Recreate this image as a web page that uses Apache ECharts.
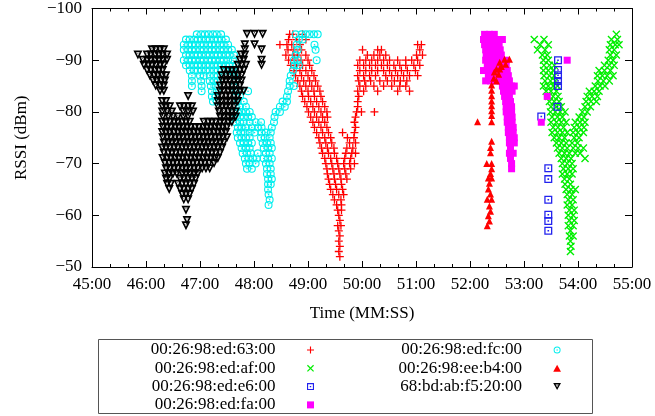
<!DOCTYPE html>
<html>
<head>
<meta charset="utf-8">
<script src="https://cdn.jsdelivr.net/npm/echarts@6/dist/echarts.min.js"></script>
<style>
  html, body { margin: 0; padding: 0; background: #fff; }
  #chart { width: 655px; height: 416px; }
</style>
</head>
<body>
<div id="chart"></div>
<script>
// x = time in minutes (45 -> 45:00), y = RSSI (dBm)
// rows: [dBm, [times...]]
const mac63 = [
  [-95, [48.66, 48.72, 48.90]],
  [-94, [48.64, 48.79, 48.96]],
  [-93, [48.48, 48.61, 48.70, 48.85, 51.03, 51.10]],
  [-92, [48.63, 48.74, 48.88, 50.01, 50.29, 50.36, 51.07]],
  [-91, [48.59, 48.72, 48.81, 48.96, 50.10, 50.22, 50.33, 50.44, 51.01, 51.12]],
  [-90, [48.64, 48.75, 48.87, 49.00, 49.96, 50.07, 50.18, 50.29, 50.40, 50.51, 50.66, 50.81, 50.92, 51.03]],
  [-89, [48.68, 48.79, 48.90, 49.03, 49.92, 50.03, 50.14, 50.25, 50.36, 50.47, 50.59, 50.70, 50.81, 50.96, 51.07]],
  [-88, [48.74, 48.85, 48.96, 49.07, 49.96, 50.07, 50.18, 50.29, 50.40, 50.51, 50.62, 50.73, 50.84, 50.99]],
  [-87, [48.77, 48.88, 49.00, 49.11, 49.92, 50.03, 50.14, 50.25, 50.44, 50.55, 50.66, 50.77, 50.88, 51.03]],
  [-86, [48.81, 48.92, 49.03, 49.14, 49.94, 50.05, 50.16, 50.33, 50.47, 50.60, 50.71, 50.83]],
  [-85, [48.85, 48.96, 49.07, 49.18, 49.96, 50.07, 50.22, 50.40, 50.55, 50.70, 50.81]],
  [-84, [48.88, 49.00, 49.11, 49.22, 49.92, 50.03, 50.29, 50.66, 50.88]],
  [-83, [48.90, 49.01, 49.12, 49.24, 49.94]],
  [-82, [48.94, 49.05, 49.16, 49.27, 49.92]],
  [-81, [48.98, 49.09, 49.20, 49.31, 49.92]],
  [-80, [49.01, 49.12, 49.24, 49.35, 49.90, 49.99, 50.23]],
  [-79, [49.05, 49.16, 49.27, 49.36, 49.88]],
  [-78, [49.09, 49.20, 49.31, 49.86]],
  [-77, [49.12, 49.24, 49.35, 49.88]],
  [-76, [49.16, 49.27, 49.38, 49.64, 49.86]],
  [-75, [49.20, 49.31, 49.42, 49.73, 49.85]],
  [-74, [49.22, 49.33, 49.44, 49.77, 49.88]],
  [-73, [49.25, 49.36, 49.48, 49.72, 49.83]],
  [-72, [49.27, 49.38, 49.49, 49.70, 49.81, 49.88]],
  [-71, [49.31, 49.42, 49.53, 49.68, 49.79]],
  [-70, [49.33, 49.44, 49.55, 49.66, 49.77, 49.86]],
  [-69, [49.35, 49.46, 49.57, 49.68, 49.79]],
  [-68, [49.36, 49.48, 49.59, 49.70]],
  [-67, [49.38, 49.49, 49.61, 49.72]],
  [-66, [49.40, 49.51, 49.62]],
  [-65, [49.42, 49.53, 49.64]],
  [-64, [49.46, 49.57, 49.66]],
  [-63, [49.49, 49.61]],
  [-62, [49.53, 49.62]],
  [-61, [49.55, 49.62]],
  [-60, [49.57]],
  [-59, [49.59]],
  [-58, [49.55, 49.61]],
  [-57, [49.57]],
  [-56, [49.59]],
  [-55, [49.57]],
  [-54, [49.59]],
  [-53, [49.57]],
  [-52, [49.59]]
];

const macAf = [
  [-95, [54.71]],
  [-94, [53.19, 53.37, 54.62, 54.73]],
  [-93, [53.30, 53.45, 54.60, 54.69, 54.76]],
  [-92, [53.25, 53.39, 54.58, 54.67]],
  [-91, [53.34, 53.43, 54.60, 54.71]],
  [-90, [53.36, 53.45, 54.56, 54.65]],
  [-89, [53.37, 53.47, 53.56, 54.49, 54.58, 54.67]],
  [-88, [53.36, 53.45, 53.54, 54.39, 54.49, 54.60]],
  [-87, [53.37, 53.47, 53.56, 54.36, 54.45, 54.54, 54.65]],
  [-86, [53.39, 53.49, 53.58, 54.37, 54.47, 54.58]],
  [-85, [53.36, 53.45, 53.54, 53.62, 54.32, 54.41, 54.50]],
  [-84, [53.41, 53.50, 53.60, 54.21, 54.30, 54.39]],
  [-83, [53.45, 53.54, 53.63, 54.17, 54.26, 54.36]],
  [-82, [53.47, 53.56, 53.65, 54.15, 54.24, 54.34]],
  [-81, [53.50, 53.60, 53.69, 54.13, 54.23]],
  [-80, [53.49, 53.58, 53.67, 53.76, 54.08, 54.17]],
  [-79, [53.52, 53.62, 53.71, 54.02, 54.11]],
  [-78, [53.50, 53.60, 53.69, 53.78, 53.95, 54.04, 54.13]],
  [-77, [53.54, 53.63, 53.73, 53.93, 54.02, 54.11]],
  [-76, [53.52, 53.62, 53.71, 53.80, 53.91, 54.00, 54.10]],
  [-75, [53.56, 53.65, 53.75, 53.93, 54.02]],
  [-74, [53.60, 53.69, 53.78, 53.89, 53.99]],
  [-73, [53.62, 53.71, 53.80, 53.91, 54.00, 54.10]],
  [-72, [53.65, 53.75, 53.84, 53.95, 54.04]],
  [-71, [53.69, 53.78, 53.87, 54.13]],
  [-70, [53.71, 53.80, 53.89]],
  [-69, [53.73, 53.82, 53.91]],
  [-68, [53.71, 53.80, 53.89]],
  [-67, [53.75, 53.84]],
  [-66, [53.76, 53.86]],
  [-65, [53.78, 53.87, 53.95]],
  [-64, [53.80, 53.89]],
  [-63, [53.82, 53.91]],
  [-62, [53.80, 53.89]],
  [-61, [53.84, 53.93]],
  [-60, [53.82, 53.91]],
  [-59, [53.84, 53.93]],
  [-58, [53.82, 53.91]],
  [-57, [53.86]],
  [-56, [53.84, 53.91]],
  [-55, [53.86]],
  [-54, [53.87]],
  [-53, [53.86]]
];

const macE6 = [
  [-90, [53.63]], [-88.1, [53.63]], [-87.1, [53.63]], [-86, [53.63]], [-85, [53.63]],
  [-81, [53.62]], [-79.1, [53.32]], [-69.1, [53.45]], [-67, [53.45]], [-63, [53.45]],
  [-60.1, [53.45]], [-58.9, [53.45]], [-57, [53.45]]
];

const macFa = [
  [-95, [52.27, 52.36, 52.45]],
  [-94, [52.25, 52.34, 52.43, 52.53, 52.60]],
  [-93, [52.27, 52.36, 52.45, 52.54]],
  [-92, [52.29, 52.38, 52.47, 52.56]],
  [-91, [52.30, 52.40, 52.49, 52.58]],
  [-90, [52.29, 52.38, 52.47, 52.58, 52.67, 53.80]],
  [-89, [52.32, 52.42, 52.51, 52.60, 52.67]],
  [-88, [52.25, 52.34, 52.43, 52.53, 52.62, 52.69]],
  [-87, [52.34, 52.43, 52.53, 52.62, 52.71]],
  [-86, [52.29, 52.38, 52.47, 52.56, 52.66, 52.73]],
  [-85, [52.60, 52.69, 52.77, 52.82]],
  [-84, [52.62, 52.71, 52.78]],
  [-83, [52.64, 52.73, 53.43]],
  [-82, [52.66, 52.75]],
  [-81, [52.67, 52.77]],
  [-80, [52.67, 52.77]],
  [-79, [52.69, 52.78]],
  [-78, [52.69, 52.78, 53.32]],
  [-77, [52.71, 52.80]],
  [-76, [52.71, 52.80]],
  [-75, [52.73, 52.82]],
  [-74, [52.73, 52.82]],
  [-73, [52.75]],
  [-72, [52.73, 52.80]],
  [-71, [52.75]],
  [-70, [52.77]],
  [-69, [52.77]]
];

const macFc = [
  [-95, [46.94, 47.02, 47.09, 47.16, 47.24, 47.31, 47.39, 48.77, 48.88, 48.96, 49.03, 49.11, 49.18]],
  [-94, [46.74, 46.81, 46.89, 46.96, 47.03, 47.11, 47.18, 47.26, 47.33, 47.40, 47.48, 48.83, 48.90]],
  [-93, [46.70, 46.78, 46.85, 46.92, 47.00, 47.07, 47.15, 47.22, 47.29, 47.37, 47.44, 47.52, 48.79, 49.12]],
  [-92, [46.70, 46.78, 46.85, 46.92, 47.00, 47.07, 47.15, 47.22, 47.29, 47.37, 47.44, 47.52, 47.59, 48.81, 49.14]],
  [-91, [46.74, 46.81, 46.89, 46.96, 47.03, 47.11, 47.18, 47.26, 47.33, 47.40, 47.48, 47.55, 47.63, 48.77]],
  [-90, [46.70, 46.78, 46.85, 46.92, 47.00, 47.07, 47.15, 47.22, 47.29, 47.37, 47.44, 47.52, 47.61, 48.74, 48.81, 49.16]],
  [-89, [46.74, 46.81, 46.89, 46.96, 47.03, 47.11, 47.18, 47.26, 47.33, 47.40, 47.48, 47.55, 47.66, 48.75, 48.83]],
  [-88, [46.81, 46.89, 46.96, 47.03, 47.11, 47.18, 47.26, 47.33, 47.40, 47.48, 47.55, 47.59, 47.63, 48.72]],
  [-87, [46.85, 47.00, 47.07, 47.18, 47.26, 47.33, 47.63, 48.68]],
  [-86, [46.85, 47.02, 47.18, 47.26, 47.33, 47.66, 48.66]],
  [-85, [46.85, 47.03, 47.20, 47.29, 47.63, 48.66, 48.74]],
  [-84, [47.03, 47.22, 47.31, 47.66, 47.89, 48.63]],
  [-83, [47.22, 47.29, 47.66, 47.74, 48.61]],
  [-82, [47.24, 47.31, 47.70, 47.81, 48.53, 48.61]],
  [-81, [47.66, 47.74, 47.85, 48.48, 48.57]],
  [-80, [47.63, 47.70, 47.77, 47.85, 47.92, 48.40, 48.48]],
  [-79, [47.66, 47.74, 47.81, 47.89, 47.96, 48.38]],
  [-78, [47.66, 47.74, 47.81, 47.92, 48.03, 48.13, 48.37]],
  [-77, [47.70, 47.77, 47.85, 47.96, 48.07, 48.14, 48.33]],
  [-76, [47.68, 47.76, 47.83, 47.92, 48.01, 48.14, 48.22, 48.31]],
  [-75, [47.70, 47.77, 47.85, 47.92, 48.13, 48.20, 48.29]],
  [-74, [47.74, 47.81, 47.89, 47.96, 48.16, 48.24, 48.31]],
  [-73, [47.77, 47.85, 47.92, 48.18, 48.26, 48.33]],
  [-72, [47.79, 47.87, 47.94, 48.07, 48.22, 48.29]],
  [-71, [47.83, 47.90, 47.98, 48.05, 48.18, 48.26, 48.33]],
  [-70, [47.85, 47.92, 48.03, 48.22, 48.29]],
  [-69, [47.87, 47.96, 48.24, 48.31]],
  [-68, [48.24, 48.31]],
  [-67, [48.26, 48.33]],
  [-66, [48.26, 48.31]],
  [-65, [48.26]],
  [-64, [48.27]],
  [-63, [48.29]],
  [-62, [48.27]]
];

const macB4 = [
  [-90.2, [52.64, 52.73]], [-89.6, [52.55]], [-89.2, [52.66]], [-88.8, [52.58]],
  [-88.3, [52.49, 52.55]], [-87.7, [52.45]], [-87.3, [52.53]], [-86.5, [52.44]],
  [-86, [52.49]], [-85.2, [52.40]], [-84.2, [52.40]], [-83.1, [52.40]],
  [-82.1, [52.40]], [-81.2, [52.40]], [-80.2, [52.40]], [-79.3, [52.40]],
  [-78.1, [52.14, 52.40]], [-74.3, [52.40]], [-73.1, [52.38]], [-72.1, [52.38]],
  [-70, [52.31, 52.40]], [-69, [52.40]], [-68.1, [52.38]], [-67.2, [52.34, 52.40]],
  [-66.2, [52.36]], [-65.1, [52.34]], [-64.1, [52.38]], [-63.1, [52.32, 52.40]],
  [-61.8, [52.36]], [-60.8, [52.38]], [-59.9, [52.34]], [-58.9, [52.36]], [-58, [52.32]]
];

const mac68 = [
  [-95, [47.87, 48.01, 48.16]],
  [-93, [47.83, 48.01]],
  [-92, [46.11, 46.18, 46.26, 46.33, 47.83, 48.14]],
  [-91, [45.85, 46.02, 46.09, 46.17, 46.24, 46.31, 46.39, 47.76, 47.83]],
  [-90, [45.94, 46.02, 46.09, 46.17, 46.24, 46.31, 46.39, 47.74, 47.81, 48.14]],
  [-89, [45.96, 46.04, 46.11, 46.18, 46.26, 46.33, 47.70, 47.77, 47.85, 48.14]],
  [-88, [46.02, 46.09, 46.17, 46.24, 46.31, 47.44, 47.52, 47.59, 47.66, 47.74, 47.81]],
  [-87, [46.07, 46.15, 46.22, 46.30, 46.37, 47.40, 47.48, 47.55, 47.63, 47.70, 47.77]],
  [-86, [46.13, 46.20, 46.28, 46.35, 47.41, 47.48, 47.55, 47.63, 47.70, 47.77]],
  [-85, [46.18, 46.26, 46.33, 47.37, 47.44, 47.52, 47.59, 47.66, 47.74]],
  [-84, [46.26, 46.33, 47.37, 47.44, 47.52, 47.59, 47.66, 47.74, 47.81]],
  [-83, [46.78, 47.33, 47.40, 47.48, 47.55, 47.63, 47.70]],
  [-82, [46.30, 46.37, 47.33, 47.40, 47.48, 47.55, 47.63, 47.70]],
  [-81, [46.30, 46.37, 46.44, 46.63, 46.70, 46.78, 46.85, 47.33, 47.41, 47.48, 47.55, 47.63]],
  [-80, [46.30, 46.39, 46.48, 46.69, 46.78, 46.87, 47.35, 47.44, 47.52, 47.59, 47.66]],
  [-79, [46.31, 46.41, 46.50, 46.59, 46.69, 46.78, 47.37, 47.44, 47.52, 47.59, 47.66]],
  [-78, [46.30, 46.37, 46.44, 46.52, 46.59, 46.67, 46.74, 46.81, 47.07, 47.15, 47.22, 47.29, 47.37, 47.44, 47.52, 47.59]],
  [-77, [46.31, 46.39, 46.46, 46.54, 46.61, 46.68, 46.76, 46.83, 46.91, 46.98, 47.06, 47.13, 47.20, 47.28, 47.35, 47.42, 47.50]],
  [-76, [46.30, 46.37, 46.44, 46.52, 46.59, 46.67, 46.74, 46.81, 46.89, 46.96, 47.04, 47.11, 47.18, 47.26, 47.33, 47.41, 47.48]],
  [-75, [46.31, 46.39, 46.46, 46.54, 46.61, 46.68, 46.76, 46.83, 46.91, 46.98, 47.06, 47.13, 47.20, 47.28, 47.35, 47.42, 47.50]],
  [-74, [46.33, 46.41, 46.48, 46.55, 46.63, 46.70, 46.78, 46.85, 46.92, 47.00, 47.07, 47.15, 47.22, 47.29, 47.37, 47.44]],
  [-73, [46.30, 46.37, 46.44, 46.52, 46.59, 46.67, 46.74, 46.81, 46.89, 46.96, 47.04, 47.11, 47.18, 47.26, 47.33, 47.41]],
  [-72, [46.33, 46.41, 46.48, 46.55, 46.63, 46.70, 46.78, 46.85, 46.92, 47.00, 47.07, 47.15, 47.22, 47.29, 47.37]],
  [-71, [46.31, 46.39, 46.46, 46.54, 46.61, 46.68, 46.76, 46.83, 46.91, 46.98, 47.06, 47.13, 47.20, 47.28, 47.33]],
  [-70, [46.35, 46.43, 46.50, 46.57, 46.65, 46.72, 46.80, 46.87, 46.94, 47.02, 47.09, 47.17, 47.26]],
  [-69, [46.37, 46.44, 46.52, 46.59, 46.67, 46.74, 46.81, 46.89, 46.96, 47.04, 47.11, 47.18]],
  [-68, [46.35, 46.43, 46.50, 46.57, 46.67, 46.74, 46.81, 46.89, 46.96]],
  [-67, [46.37, 46.44, 46.63, 46.70, 46.78, 46.85, 46.92]],
  [-66, [46.39, 46.46, 46.59, 46.67, 46.74, 46.81, 46.89]],
  [-65, [46.43, 46.63, 46.70, 46.78, 46.85]],
  [-64, [46.67, 46.74, 46.81]],
  [-63, [46.70, 46.78]],
  [-61, [46.74]],
  [-59, [46.76]],
  [-58, [46.74]]
];

const seriesNames = [
  '00:26:98:ed:63:00', '00:26:98:ed:af:00', '00:26:98:ed:e6:00', '00:26:98:ed:fa:00',
  '00:26:98:ed:fc:00', '00:26:98:ee:b4:00', '68:bd:ab:f5:20:00'
];
const seriesRows = [mac63, macAf, macE6, macFa, macFc, macB4, mac68];
const seriesColors = ['#ff0000', '#00ee00', '#2222ee', '#ff00ff', '#00eeee', '#ff0000', '#000000'];

// gnuplot-like point shapes
const PLUS = 'path://M0,4.2H10V5.8H0Z M4.2,0H5.8V10H4.2Z';
const CROSS = 'path://M0,1.2L1.2,0L10,8.8L8.8,10Z M8.8,0L10,1.2L1.2,10L0,8.8Z';
const BOXDOT = 'path://M0,0H10V10H0Z M1.6,1.6V8.4H8.4V1.6Z M4,4H6V6H4Z';
const FBOX = 'path://M0,0H10V10H0Z';
const CIRCDOT = 'path://M5,0A5,5 0 1,1 5,10A5,5 0 1,1 5,0Z M5,1.4A3.6,3.6 0 1,0 5,8.6A3.6,3.6 0 1,0 5,1.4Z M5,4A1,1 0 1,1 5,6A1,1 0 1,1 5,4Z';
const FTRI = 'path://M5,0L10,9H0Z';
const DTRIDOT = 'path://M0,0H10L5,9Z M3,1.8L5,5.4L7,1.8Z M4.5,2.5H5.5V3.3H4.5Z';
const seriesSymbols = [PLUS, CROSS, BOXDOT, FBOX, CIRCDOT, FTRI, DTRIDOT];
const seriesSizes = [8, 8, 8, 7, 8, 7, 9];

const xTicks = [45, 46, 47, 48, 49, 50, 51, 52, 53, 54, 55];

const FONT = '"Liberation Serif", "Times New Roman", serif';

function toPoints(rows) {
  const pts = [];
  rows.forEach(function (r) {
    r[1].forEach(function (t) { pts.push([t, r[0]]); });
  });
  return pts;
}

const chart = echarts.init(document.getElementById('chart'), null, { renderer: 'canvas' });

const tickStyle = { color: '#000', width: 1 };
const axisCommon = {
  axisLine: { show: true, onZero: false, lineStyle: { color: '#000', width: 1 } },
  splitLine: { show: false }
};

// legend: two columns, text right-aligned with the mark to its right
function legendColumn(names, right) {
  return {
    data: names,
    orient: 'vertical',
    right: right,
    top: 341.5,
    align: 'right',
    padding: 0,
    itemGap: 1.3,
    itemWidth: 60,
    itemHeight: 7,
    selectedMode: false,
    textStyle: { fontFamily: FONT, fontSize: 17, color: '#000' }
  };
}

chart.setOption({
  animation: false,
  backgroundColor: '#fff',
  textStyle: { fontFamily: FONT, color: '#000' },
  grid: { left: 92, right: 23, top: 6, bottom: 149 },
  graphic: [{
    type: 'rect', silent: true,
    shape: { x: 98.5, y: 339.5, width: 494, height: 74 },
    style: { fill: 'none', stroke: '#555', lineWidth: 1 }
  }],
  legend: [
    legendColumn(seriesNames.slice(0, 4), 341),
    legendColumn(seriesNames.slice(4), 94)
  ],
  xAxis: [
    Object.assign({}, axisCommon, {
      type: 'value', position: 'bottom',
      min: xTicks[0], max: xTicks[xTicks.length - 1], interval: 1,
      name: 'Time (MM:SS)', nameLocation: 'middle', nameGap: 38,
      nameTextStyle: { fontFamily: FONT, fontSize: 17, color: '#000' },
      axisTick: { show: true, inside: true, length: 6, lineStyle: tickStyle },
      minorTick: { show: true, splitNumber: 3, length: 3, lineStyle: tickStyle },
      axisLabel: {
        fontFamily: FONT, fontSize: 17, color: '#000', margin: 9,
        formatter: function (v) { return Math.round(v) + ':00'; }
      }
    }),
    Object.assign({}, axisCommon, {
      type: 'value', position: 'top',
      min: xTicks[0], max: xTicks[xTicks.length - 1], interval: 1,
      axisTick: { show: true, inside: true, length: 6, lineStyle: tickStyle },
      minorTick: { show: true, splitNumber: 3, length: 3, lineStyle: tickStyle },
      axisLabel: { show: false }
    })
  ],
  yAxis: [
    Object.assign({}, axisCommon, {
      type: 'value', position: 'left', inverse: true,
      min: -100, max: -50, interval: 10,
      name: 'RSSI (dBm)', nameLocation: 'middle', nameGap: 62, nameRotate: 90,
      nameTextStyle: { fontFamily: FONT, fontSize: 17, color: '#000' },
      axisTick: { show: true, inside: true, length: 7, lineStyle: tickStyle },
      axisLabel: {
        fontFamily: FONT, fontSize: 17, color: '#000', margin: 10,
        formatter: function (v) { return String(v).replace('-', '\u2212'); }
      }
    }),
    Object.assign({}, axisCommon, {
      type: 'value', position: 'right', inverse: true,
      min: -100, max: -50, interval: 10,
      axisTick: { show: true, inside: true, length: 7, lineStyle: tickStyle },
      axisLabel: { show: false }
    })
  ],
  series: seriesNames.map(function (name, i) {
    return {
      name: name,
      type: 'scatter',
      xAxisIndex: 0,
      yAxisIndex: 0,
      symbol: seriesSymbols[i],
      symbolSize: seriesSizes[i],
      itemStyle: { color: seriesColors[i], opacity: 1 },
      emphasis: { disabled: true },
      data: toPoints(seriesRows[i])
    };
  })
});
</script>
</body>
</html>
